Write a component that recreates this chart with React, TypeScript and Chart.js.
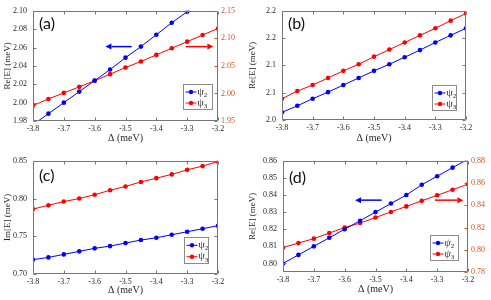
import React, { useEffect, useRef } from "react";
import { Chart, registerables } from "chart.js";
Chart.register(...registerables);

// ---------- data ----------
const deltaValues = [-3.8, -3.75, -3.7, -3.65, -3.6, -3.55, -3.5, -3.45, -3.4, -3.35, -3.3, -3.25, -3.2];
const xTickValues = [-3.8, -3.7, -3.6, -3.5, -3.4, -3.3, -3.2];
const xTickLabels = ["-3.8", "-3.7", "-3.6", "-3.5", "-3.4", "-3.3", "-3.2"];
const seriesNames = ["ψ2", "ψ3"];

const aPsi2 = [1.976, 1.988, 2.0, 2.012, 2.024, 2.036, 2.049, 2.061, 2.074, 2.087, 2.099, 2.112, 2.124];
const aPsi3 = [1.978, 1.99, 2.001, 2.012, 2.023, 2.035, 2.047, 2.058, 2.07, 2.082, 2.094, 2.106, 2.118];
const bPsi2 = [2.014, 2.026, 2.039, 2.051, 2.064, 2.077, 2.09, 2.102, 2.115, 2.128, 2.142, 2.155, 2.168];
const bPsi3 = [2.039, 2.053, 2.064, 2.077, 2.09, 2.102, 2.116, 2.129, 2.142, 2.155, 2.168, 2.182, 2.195];
const cPsi2 = [0.719, 0.722, 0.726, 0.73, 0.734, 0.737, 0.741, 0.745, 0.748, 0.752, 0.756, 0.76, 0.764];
const cPsi3 = [0.786, 0.791, 0.796, 0.8, 0.805, 0.811, 0.816, 0.822, 0.827, 0.832, 0.838, 0.843, 0.849];
const dPsi2 = [0.8, 0.805, 0.81, 0.815, 0.82, 0.825, 0.83, 0.835, 0.84, 0.846, 0.851, 0.856, 0.861];
const dPsi3 = [0.802, 0.806, 0.81, 0.815, 0.82, 0.824, 0.829, 0.834, 0.839, 0.844, 0.849, 0.854, 0.859];

const aLeftTicks = [1.98, 2.0, 2.02, 2.04, 2.06, 2.08, 2.1];
const aLeftLabels = ["1.98", "2.00", "2.02", "2.04", "2.06", "2.08", "2.10"];
const aRightTicks = [1.95, 2.0, 2.05, 2.1, 2.15];
const aRightLabels = ["1.95", "2.00", "2.05", "2.10", "2.15"];
const bTicks = [2.0, 2.05, 2.1, 2.15, 2.2];
const bLabels = ["2.0", "2.1", "2.1", "2.2", "2.2"];
const cTicks = [0.7, 0.75, 0.8, 0.85];
const cLabels = ["0.70", "0.75", "0.80", "0.85"];
const dLeftTicks = [0.8, 0.81, 0.82, 0.83, 0.84, 0.85, 0.86];
const dLeftLabels = ["0.80", "0.81", "0.82", "0.83", "0.84", "0.85", "0.86"];
const dRightTicks = [0.78, 0.8, 0.82, 0.84, 0.86, 0.88];
const dRightLabels = ["0.78", "0.80", "0.82", "0.84", "0.86", "0.88"];

// ---------- styles ----------
const BLUE = "#0000ff";
const RED = "#ff0000";
const ORANGE = "#D95319";
const AXIS = "#777777";
const TEXT = "#262626";
const SERIF = "'Liberation Serif', 'Times New Roman', serif";
const SANS = "Lato, 'Open Sans', 'Liberation Sans', sans-serif";

type AxisCfg = { min: number; max: number; ticks: number[]; labels: string[] };
type PanelCfg = {
  tag: string;
  box: { x: number; y: number; w: number; h: number };
  area: { l: number; t: number; r: number; b: number };
  yTitle: string;
  left: AxisCfg;
  right?: AxisCfg;
  psi2: number[];
  psi3: number[];
  tagOff: { dx: number; dy: number };
  legend: { ri: number; bi: number; w: number; h: number; italic: boolean };
  arrows?: { y: number; blue: [number, number]; red: [number, number] };
  xTitlePad: number;
};

const panels: PanelCfg[] = [
  {
    tag: "(a)",
    box: { x: 0, y: 0, w: 245, h: 150 },
    area: { l: 33, t: 6, r: 218, b: 121 },
    yTitle: "Re[E] (meV)",
    left: { min: 1.98, max: 2.1, ticks: aLeftTicks, labels: aLeftLabels },
    right: { min: 1.95, max: 2.15, ticks: aRightTicks, labels: aRightLabels },
    psi2: aPsi2,
    psi3: aPsi3,
    tagOff: { dx: 6, dy: 13 },
    legend: { ri: 6, bi: 12, w: 29, h: 25, italic: false },
    arrows: { y: 2.061, blue: [-3.48, -3.565], red: [-3.305, -3.215] },
    xTitlePad: 6,
  },
  {
    tag: "(b)",
    box: { x: 245, y: 0, w: 246, h: 150 },
    area: { l: 37, t: 5, r: 221, b: 120 },
    yTitle: "Re[E] (meV)",
    left: { min: 2.0, max: 2.2, ticks: bTicks, labels: bLabels },
    psi2: bPsi2,
    psi3: bPsi3,
    tagOff: { dx: 6, dy: 13 },
    legend: { ri: 10, bi: 10, w: 24, h: 25, italic: false },
    xTitlePad: 6,
  },
  {
    tag: "(c)",
    box: { x: 0, y: 150, w: 245, h: 150 },
    area: { l: 33, t: 8, r: 218, b: 124 },
    yTitle: "Im[E] (meV)",
    left: { min: 0.7, max: 0.85, ticks: cTicks, labels: cLabels },
    psi2: cPsi2,
    psi3: cPsi3,
    tagOff: { dx: 6, dy: 15 },
    legend: { ri: 10, bi: 11, w: 24, h: 26, italic: false },
    xTitlePad: 4,
  },
  {
    tag: "(d)",
    box: { x: 245, y: 150, w: 246, h: 150 },
    area: { l: 38, t: 7, r: 223, b: 122 },
    yTitle: "Re[E] (meV)",
    left: { min: 0.795, max: 0.86, ticks: dLeftTicks, labels: dLeftLabels },
    right: { min: 0.78, max: 0.88, ticks: dRightTicks, labels: dRightLabels },
    psi2: dPsi2,
    psi3: dPsi3,
    tagOff: { dx: 6, dy: 17 },
    legend: { ri: 10, bi: 12, w: 28, h: 25, italic: true },
    arrows: { y: 0.837, blue: [-3.48, -3.566], red: [-3.307, -3.215] },
    xTitlePad: 5,
  },
];

function drawArrow(ctx: CanvasRenderingContext2D, x1: number, x2: number, y: number, color: string) {
  const dir = Math.sign(x2 - x1);
  const head = 6;
  ctx.save();
  ctx.strokeStyle = color;
  ctx.fillStyle = color;
  ctx.lineWidth = 1.5;
  ctx.beginPath();
  ctx.moveTo(x1, y);
  ctx.lineTo(x2 - dir * head, y);
  ctx.stroke();
  ctx.beginPath();
  ctx.moveTo(x2, y);
  ctx.lineTo(x2 - dir * head, y - 3);
  ctx.lineTo(x2 - dir * head, y + 3);
  ctx.closePath();
  ctx.fill();
  ctx.restore();
}

function makeFramePlugin(cfg: PanelCfg) {
  return {
    id: "frame" + cfg.tag,
    afterDraw(chart: any) {
      const ctx: CanvasRenderingContext2D = chart.ctx;
      const { left, right, top, bottom } = chart.chartArea;
      const L = Math.round(left) + 0.5;
      const R = Math.round(right) - 0.5;
      const T = Math.round(top) + 0.5;
      const B = Math.round(bottom) - 0.5;
      const tl = 3;
      ctx.save();
      ctx.lineWidth = 1;
      ctx.strokeStyle = AXIS;
      ctx.beginPath();
      ctx.moveTo(L, T);
      ctx.lineTo(R, T);
      ctx.moveTo(L, B);
      ctx.lineTo(R, B);
      ctx.moveTo(L, T);
      ctx.lineTo(L, B);
      if (!cfg.right) {
        ctx.moveTo(R, T);
        ctx.lineTo(R, B);
      }
      const xs = chart.scales.x;
      xTickValues.forEach((v) => {
        const px = Math.round(xs.getPixelForValue(v)) + 0.5;
        ctx.moveTo(px, B);
        ctx.lineTo(px, B - tl);
        ctx.moveTo(px, T);
        ctx.lineTo(px, T + tl);
      });
      const ys = chart.scales.y;
      cfg.left.ticks.forEach((v) => {
        const py = Math.round(ys.getPixelForValue(v)) + 0.5;
        ctx.moveTo(L, py);
        ctx.lineTo(L + tl, py);
        if (!cfg.right) {
          ctx.moveTo(R, py);
          ctx.lineTo(R - tl, py);
        }
      });
      ctx.stroke();
      if (cfg.right) {
        const y1 = chart.scales.y1;
        ctx.strokeStyle = ORANGE;
        ctx.beginPath();
        ctx.moveTo(R, T);
        ctx.lineTo(R, B);
        cfg.right.ticks.forEach((v) => {
          const py = Math.round(y1.getPixelForValue(v)) + 0.5;
          ctx.moveTo(R, py);
          ctx.lineTo(R - tl, py);
        });
        ctx.stroke();
      }

      if (cfg.arrows) {
        const ay = ys.getPixelForValue(cfg.arrows.y);
        drawArrow(ctx, xs.getPixelForValue(cfg.arrows.blue[0]), xs.getPixelForValue(cfg.arrows.blue[1]), ay, BLUE);
        drawArrow(ctx, xs.getPixelForValue(cfg.arrows.red[0]), xs.getPixelForValue(cfg.arrows.red[1]), ay, RED);
      }

      ctx.fillStyle = "#111";
      ctx.font = `16px ${SANS}`;
      ctx.textAlign = "left";
      ctx.textBaseline = "middle";
      ctx.fillText(cfg.tag, left + cfg.tagOff.dx, top + cfg.tagOff.dy);

      const lg = cfg.legend;
      const bx = Math.round(right - lg.ri - lg.w) + 0.5;
      const by = Math.round(bottom - lg.bi - lg.h) + 0.5;
      ctx.fillStyle = "#ffffff";
      ctx.fillRect(bx, by, lg.w, lg.h);
      ctx.strokeStyle = "#8a8a8a";
      ctx.lineWidth = 1;
      ctx.strokeRect(bx, by, lg.w, lg.h);
      const colors = [BLUE, RED];
      seriesNames.forEach((name, i) => {
        const cy = by + lg.h * (i === 0 ? 0.3 : 0.74);
        ctx.strokeStyle = colors[i];
        ctx.fillStyle = colors[i];
        ctx.lineWidth = 1;
        ctx.beginPath();
        ctx.moveTo(bx + 2, cy);
        ctx.lineTo(bx + 13, cy);
        ctx.stroke();
        ctx.beginPath();
        ctx.arc(bx + 7.5, cy, 2.2, 0, Math.PI * 2);
        ctx.fill();
        ctx.fillStyle = TEXT;
        ctx.textBaseline = "middle";
        ctx.font = `${lg.italic ? "italic " : ""}10px ${SERIF}`;
        const base = name.slice(0, 1);
        const sub = name.slice(1);
        ctx.fillText(base, bx + 14, cy);
        const w = ctx.measureText(base).width;
        ctx.font = `7px ${SERIF}`;
        ctx.fillText(sub, bx + 14 + w, cy + 3);
      });
      ctx.restore();
    },
  };
}

function Panel({ cfg }: { cfg: PanelCfg }) {
  const ref = useRef<HTMLCanvasElement | null>(null);
  useEffect(() => {
    if (!ref.current) return;
    const { box, area } = cfg;
    const tickFont = { family: SERIF, size: 8 };
    const mk = (arr: number[]) => deltaValues.map((x, i) => ({ x, y: arr[i] }));
    const scales: any = {
      x: {
        type: "linear",
        min: -3.8,
        max: -3.2,
        afterBuildTicks: (s: any) => {
          s.ticks = xTickValues.map((v) => ({ value: v }));
        },
        afterFit: (s: any) => {
          s.height = box.h - area.b;
        },
        grid: { display: false, drawTicks: false },
        border: { display: false },
        ticks: {
          autoSkip: false,
          maxRotation: 0,
          padding: 3,
          color: TEXT,
          font: tickFont,
          callback: (_v: any, i: number) => xTickLabels[i],
        },
        title: {
          display: true,
          text: "Δ (meV)",
          color: TEXT,
          font: { family: SERIF, size: 10 },
          padding: { top: 0, bottom: cfg.xTitlePad },
        },
      },
      y: {
        type: "linear",
        position: "left",
        min: cfg.left.min,
        max: cfg.left.max,
        afterBuildTicks: (s: any) => {
          s.ticks = cfg.left.ticks.map((v) => ({ value: v }));
        },
        afterFit: (s: any) => {
          s.width = area.l;
        },
        grid: { display: false, drawTicks: false },
        border: { display: false },
        ticks: {
          autoSkip: false,
          padding: 6,
          color: TEXT,
          font: tickFont,
          callback: (_v: any, i: number) => cfg.left.labels[i],
        },
        title: {
          display: true,
          text: cfg.yTitle,
          color: TEXT,
          font: { family: SERIF, size: 9 },
          padding: { top: 2, bottom: 0 },
        },
      },
    };
    if (cfg.right) {
      const rc = cfg.right;
      scales.y1 = {
        type: "linear",
        position: "right",
        min: rc.min,
        max: rc.max,
        afterBuildTicks: (s: any) => {
          s.ticks = rc.ticks.map((v) => ({ value: v }));
        },
        afterFit: (s: any) => {
          s.width = box.w - area.r;
        },
        grid: { display: false, drawTicks: false },
        border: { display: false },
        ticks: {
          autoSkip: false,
          padding: 3,
          color: ORANGE,
          font: tickFont,
          callback: (_v: any, i: number) => rc.labels[i],
        },
      };
    }
    const chart = new Chart(ref.current, {
      type: "line",
      data: {
        datasets: [
          {
            label: seriesNames[0],
            data: mk(cfg.psi2),
            borderColor: BLUE,
            backgroundColor: BLUE,
            borderWidth: 1,
            pointRadius: 2.3,
            pointBorderWidth: 0,
            pointHoverRadius: 2.3,
            yAxisID: "y",
            tension: 0,
          },
          {
            label: seriesNames[1],
            data: mk(cfg.psi3),
            borderColor: RED,
            backgroundColor: RED,
            borderWidth: 1,
            pointRadius: 2.3,
            pointBorderWidth: 0,
            pointHoverRadius: 2.3,
            yAxisID: cfg.right ? "y1" : "y",
            tension: 0,
          },
        ],
      },
      options: {
        animation: false,
        responsive: false,
        maintainAspectRatio: false,
        devicePixelRatio: 1,
        events: [],
        layout: {
          padding: {
            left: 0,
            top: area.t,
            bottom: 0,
            right: cfg.right ? 0 : box.w - area.r,
          },
        },
        plugins: { legend: { display: false }, tooltip: { enabled: false } },
        scales,
      },
      plugins: [makeFramePlugin(cfg)],
    } as any);
    return () => chart.destroy();
  }, [cfg]);
  return (
    <canvas
      ref={ref}
      width={cfg.box.w}
      height={cfg.box.h}
      style={{
        position: "absolute",
        left: cfg.box.x,
        top: cfg.box.y,
        width: cfg.box.w,
        height: cfg.box.h,
      }}
    />
  );
}

export default function App() {
  return (
    <div style={{ position: "absolute", left: 0, top: 0, width: 491, height: 300, background: "#ffffff" }}>
      {panels.map((p) => (
        <Panel key={p.tag} cfg={p} />
      ))}
    </div>
  );
}
